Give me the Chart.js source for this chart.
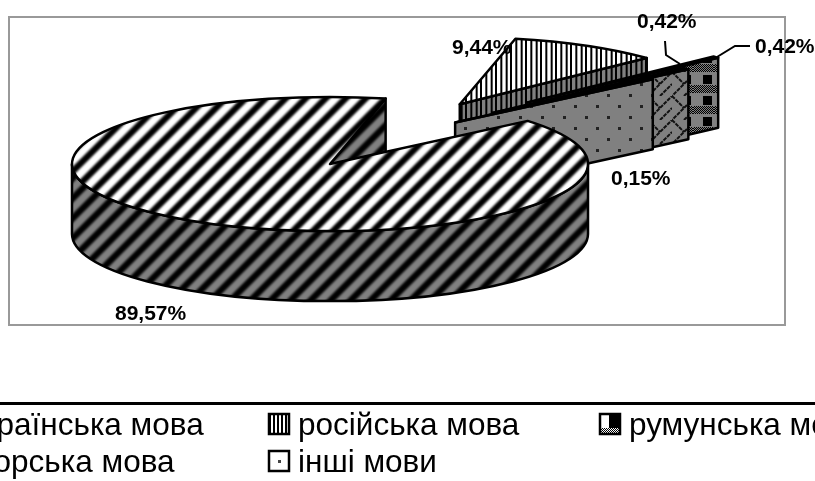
<!DOCTYPE html>
<html>
<head>
<meta charset="utf-8">
<script src="https://cdn.jsdelivr.net/npm/chart.js@4"></script>
<style>
  body { margin: 0; background: #fff; }
  canvas { display: block; }
</style>
</head>
<body>
<canvas id="PieChart" width="815" height="481"></canvas>
<script>
const languages = ['українська мова', 'російська мова', 'румунська мова', 'угорська мова', 'інші мови'];
const shares = [89.57, 9.44, 0.42, 0.42, 0.15];

// look of the fake 3D pie
const tilt = 0.26;
const depth = 70;
const explode = [0, 264, 268, 216, 164];
const lift = [0, 0, -14, -14, -14];
const drawOrder = [1, 2, 3, 4, 0];

// pct labels: x, baseline
const pctPos = [[115, 320], [452, 54], [755, 53], [637, 28], [611, 185]];
const leaders = [
    [[665, 41], [666, 55], [680, 64]],
    [[750, 46], [735, 46], [717, 57]]
];
// legend: x of marker, baseline of text
const legendPos = [[-62, 435], [269, 435], [600, 435], [-62, 472], [269, 472]];

function tile(w, h, base, paint) {
    const c = document.createElement('canvas');
    c.width = w;
    c.height = h;
    const g = c.getContext('2d');
    g.fillStyle = base;
    g.fillRect(0, 0, w, h);
    g.fillStyle = '#000';
    g.strokeStyle = '#000';
    paint(g);
    return document.getElementById('PieChart').getContext('2d').createPattern(c, 'repeat');
}

// soft wide stripes, phase picked to line up with the reference
function diagonal(base, phase) {
    return tile(20, 20, base, g => {
        g.filter = 'blur(1.2px)';
        g.lineWidth = 6.5;
        g.beginPath();
        for (let c = phase - 20; c <= phase + 40; c += 20) {
            g.moveTo(-8, c + 8);
            g.lineTo(28, c - 28);
        }
        g.stroke();
    });
}

function vertical(base, step) {
    return tile(step * 3, 2, base, g => {
        for (let k = 0; k < 3; k++) g.fillRect(k * step, 0, 2, 2);
    });
}

function dots(base) {
    return tile(22, 22, base, g => {
        g.fillStyle = '#222';
        g.fillRect(13, 6, 3, 3);
        g.fillRect(2, 17, 3, 3);
    });
}

function check(base) {
    return tile(21, 21, base, g => {
        g.fillRect(10, 12, 9, 9);
        for (let px = 0; px < 21; px++) {
            for (let py = 1; py < 9; py++) {
                if ((px + py) % 2 === 0) g.fillRect(px, py, 1, 1);
            }
        }
    });
}

function lattice(base) {
    return tile(24, 24, base, g => {
        g.strokeStyle = '#111';
        g.lineWidth = 2;
        g.setLineDash([4, 1]);
        g.beginPath();
        g.moveTo(-2, 26);
        g.lineTo(26, -2);
        g.moveTo(0, 0);
        g.lineTo(12, 12);
        g.moveTo(12, 24);
        g.lineTo(24, 12);
        g.stroke();
    });
}

const topFill = [diagonal('#fff', 4), vertical('#fff', 5.33), check('#fff'), lattice('#fff'), dots('#fff')];
const wallFill = [diagonal('#808080', 11), vertical('#808080', 5.33), check('#808080'), lattice('#808080'), dots('#808080')];

// legend swatches, each one a single 21px tile
const swatches = [
    tile(21, 21, '#fff', g => {}),
    tile(12, 2, '#fff', g => {
        for (let k = 0; k < 3; k++) g.fillRect(k * 4, 0, 2, 2);
    }),
    tile(21, 21, '#fff', g => {
        g.fillRect(9, 0, 12, 14);
        for (let px = 1; px < 21; px++) {
            for (let py = 14; py < 20; py++) {
                if ((px + py) % 2 === 0) g.fillRect(px, py, 1, 1);
            }
        }
    }),
    tile(21, 21, '#fff', g => {}),
    tile(21, 21, '#fff', g => {
        g.fillStyle = '#444';
        g.fillRect(9, 9, 3, 3);
    })
];

const pie3d = {
    id: 'pie3d',
    beforeDraw(chart) {
        const ctx = chart.ctx;
        ctx.save();
        ctx.strokeStyle = '#999';
        ctx.lineWidth = 2;
        ctx.strokeRect(9, 17, 776, 308);
        ctx.restore();
    },
    beforeDatasetsDraw(chart) {
        const ctx = chart.ctx;
        const arcs = chart.getDatasetMeta(0).data;
        ctx.save();
        ctx.strokeStyle = '#000';
        ctx.lineWidth = 2.5;
        ctx.lineJoin = 'round';
        drawOrder.forEach(i => {
            const { x, y, startAngle, endAngle, outerRadius: r } = arcs[i];
            const mid = (startAngle + endAngle) / 2;
            const cx = x + Math.cos(mid) * explode[i];
            const cy = y + Math.sin(mid) * explode[i] * tilt + lift[i];
            const ex = cx + Math.cos(endAngle) * r;
            const ey = cy + Math.sin(endAngle) * r * tilt;

            // side cut along the end of the slice
            ctx.beginPath();
            ctx.moveTo(cx, cy);
            ctx.lineTo(ex, ey);
            ctx.lineTo(ex, ey + depth);
            ctx.lineTo(cx, cy + depth);
            ctx.closePath();
            ctx.fillStyle = wallFill[i];
            ctx.fill();
            ctx.stroke();

            // rim, only the part that faces us
            const a0 = Math.max(startAngle, 0);
            const a1 = Math.min(endAngle, Math.PI);
            if (a1 > a0) {
                ctx.beginPath();
                ctx.ellipse(cx, cy, r, r * tilt, 0, a0, a1);
                ctx.ellipse(cx, cy + depth, r, r * tilt, 0, a1, a0, true);
                ctx.closePath();
                ctx.fillStyle = wallFill[i];
                ctx.fill();
                ctx.stroke();
            }

            // top face
            ctx.beginPath();
            ctx.moveTo(cx, cy);
            ctx.ellipse(cx, cy, r, r * tilt, 0, startAngle, endAngle);
            ctx.closePath();
            ctx.fillStyle = topFill[i];
            ctx.fill();
            ctx.stroke();
        });
        ctx.restore();
        return false;
    },
    afterDraw(chart) {
        const ctx = chart.ctx;
        ctx.save();

        // leader lines and percentages
        ctx.strokeStyle = '#000';
        ctx.lineWidth = 2;
        leaders.forEach(pts => {
            ctx.beginPath();
            pts.forEach((p, k) => k ? ctx.lineTo(p[0], p[1]) : ctx.moveTo(p[0], p[1]));
            ctx.stroke();
        });
        ctx.fillStyle = '#000';
        ctx.font = 'bold 21px "Liberation Sans"';
        shares.forEach((v, i) => {
            ctx.fillText(v.toFixed(2).replace('.', ',') + '%', pctPos[i][0], pctPos[i][1]);
        });

        // legend
        ctx.fillRect(0, 402, 815, 3);
        ctx.font = '31.5px "Liberation Sans"';
        languages.forEach((name, i) => {
            const [lx, ly] = legendPos[i];
            swatches[i].setTransform(new DOMMatrix().translate(lx, ly - 21));
            ctx.fillStyle = swatches[i];
            ctx.fillRect(lx, ly - 21, 20, 20);
            ctx.lineWidth = 2.5;
            ctx.strokeRect(lx, ly - 21, 20, 20);
            ctx.fillStyle = '#000';
            ctx.fillText(name, lx + 29, ly);
        });
        ctx.restore();
    }
};

new Chart(document.getElementById('PieChart').getContext('2d'), {
    type: 'pie',
    data: {
        labels: languages,
        datasets: [{
            data: shares,
            backgroundColor: topFill,
            borderColor: '#000',
            borderWidth: 2
        }]
    },
    options: {
        responsive: false,
        animation: false,
        rotation: 50,
        radius: 258,
        // puts the pie centre where the reference has it
        layout: { padding: { right: 155, bottom: 153 } },
        plugins: { legend: { display: false }, tooltip: { enabled: false } }
    },
    plugins: [pie3d]
});
</script>
</body>
</html>
